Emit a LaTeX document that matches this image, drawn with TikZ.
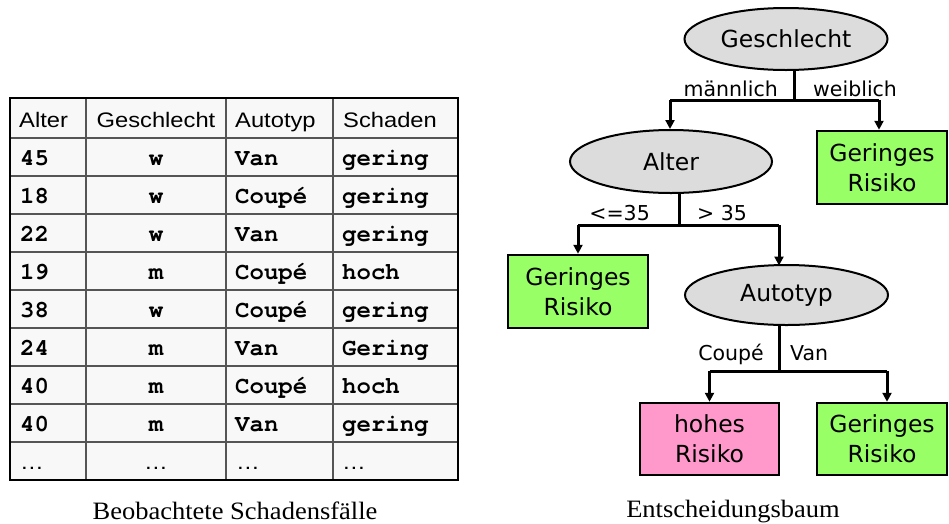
\documentclass[tikz,border=0pt]{standalone}
\usepackage{fontspec}
\usetikzlibrary{shapes.geometric,arrows.meta,calc}
\newfontfamily\hdfont[FakeStretch=1.13]{Liberation Sans}
\newfontfamily\tabmono{texgyrecursor}[Extension=.otf,UprightFont=*-regular,BoldFont=*-bold]
\newfontfamily\treefont{DejaVu Sans}
\newfontfamily\capfont[FakeStretch=1.06]{Liberation Serif}
\definecolor{nodegray}{HTML}{DCDCDC}
\definecolor{leafgreen}{HTML}{99FF66}
\definecolor{leafpink}{HTML}{FF99CC}
\definecolor{gridgray}{HTML}{555555}
\definecolor{tablebg}{HTML}{F8F8F8}

\begin{document}
\begin{tikzpicture}[x=1pt,y=-1pt,
  hd/.style={anchor=base west,inner sep=0,font=\hdfont\fontsize{21}{25}\selectfont},
  cell/.style={anchor=base west,inner sep=0,font=\tabmono\bfseries\fontsize{24}{28}\selectfont},
  ell/.style={ellipse,draw,line width=2pt,fill=nodegray,inner sep=0,
    font=\treefont\fontsize{23.5}{28}\selectfont},
  leaf/.style={rectangle,draw,line width=2.5pt,inner sep=0,align=center,
    font=\treefont\fontsize{23.5}{30}\selectfont},
  lbl/.style={inner sep=0,font=\treefont\fontsize{20.5}{24}\selectfont},
  conn/.style={line width=3pt},
  arr/.style={line width=3pt,-{Triangle[length=9pt,width=9pt]}},
  captext/.style={anchor=base,inner sep=0,font=\capfont\fontsize{25}{29}\selectfont}
]
\useasboundingbox (0,0) rectangle (949,523);

% ---------- table of observed claims ----------
\fill[tablebg] (10,98) rectangle (458,480);
\draw[gridgray,line width=1.2pt]
  (86,98) -- (86,480) (226,98) -- (226,480) (333,98) -- (333,480);
\foreach \yy in {138,176,214,252,290,328,366,404,442}
  \draw[gridgray,line width=1.2pt] (10,\yy) -- (458,\yy);
\draw[line width=2.5pt] (10,98) rectangle (458,480);

\node[hd] (hAlter) at (19,127) {Alter};
\node[hd,anchor=base] (hGeschlecht) at (156,127) {Geschlecht};
\node[hd] (hAutotyp) at (235,127) {Autotyp};
\node[hd] (hSchaden) at (343,127) {Schaden};

\foreach [count=\i] \a/\g/\t/\s in
  {45/w/Van/gering, 18/w/Coupé/gering, 22/w/Van/gering, 19/m/Coupé/hoch,
   38/w/Coupé/gering, 24/m/Van/Gering, 40/m/Coupé/hoch, 40/m/Van/gering} {
  \pgfmathsetmacro\yb{138+38*(\i-1)+27}
  \node[cell] (age\i) at (20,\yb) {\a};
  \node[cell,anchor=base] (sex\i) at (156,\yb) {\g};
  \node[cell] (car\i) at (235,\yb) {\t};
  \node[cell] (dmg\i) at (342,\yb) {\s};
}
\node[hd] (ageDots) at (20,469) {…};
\node[hd,anchor=base] (sexDots) at (156,469) {…};
\node[hd] (carDots) at (236,469) {…};
\node[hd] (dmgDots) at (342,469) {…};

\node[captext] (capTable) at (235,519) {Beobachtete Schadensfälle};

% ---------- decision tree ----------
\node[ell,minimum width=203pt,minimum height=62pt] (gesch) at (786,39) {Geschlecht};
\node[ell,minimum width=202pt,minimum height=63pt] (alter) at (671,161.5) {Alter};
\node[ell,minimum width=203pt,minimum height=60pt] (autotyp) at (786.5,295) {Autotyp};

\node[leaf,fill=leafgreen,minimum width=130pt,minimum height=73pt] (leafW) at (882,167.5) {Geringes\\Risiko};
\node[leaf,fill=leafgreen,minimum width=140pt,minimum height=73pt] (leafY) at (578,291.5) {Geringes\\Risiko};
\node[leaf,fill=leafpink,minimum width=139pt,minimum height=72pt] (leafC) at (709.5,439) {hohes\\Risiko};
\node[leaf,fill=leafgreen,minimum width=130pt,minimum height=72pt] (leafV) at (882,439) {Geringes\\Risiko};

% split on sex
\coordinate (j1) at (794,100);
\coordinate (j1l) at (670,100);
\coordinate (j1r) at (879,100);
\draw[conn] (j1 |- gesch.south) -- (j1);
\draw[conn] (j1l) -- (j1r);
\draw[arr] (j1l) -- (j1l |- alter.north);
\draw[arr] (j1r) -- (j1r |- leafW.north);
\node[lbl,anchor=base east] (lm) at (778,96.5) {männlich};
\node[lbl,anchor=base west] (lw) at (813,96.5) {weiblich};

% split on age
\coordinate (j2) at (679,225);
\coordinate (j2l) at (578,225);
\coordinate (j2r) at (779,225);
\draw[conn] (j2 |- alter.south) -- (j2);
\draw[conn] (j2l) -- (j2r);
\draw[arr] (j2l) -- (j2l |- leafY.north);
\draw[arr] (j2r) -- (779,265.5);
\node[lbl,anchor=base east] (lyoung) at (650,220) {<=35};
\node[lbl,anchor=base west] (lold) at (697,220) {> 35};

% split on car type
\coordinate (j3) at (779,371);
\coordinate (j3l) at (709.5,371);
\coordinate (j3r) at (887,371);
\draw[conn] (779,325) -- (j3);
\draw[conn] (j3l) -- (j3r);
\draw[arr] (j3l) -- (j3l |- leafC.north);
\draw[arr] (j3r) -- (j3r |- leafV.north);
\node[lbl,anchor=base east] (lc) at (764,360) {Coupé};
\node[lbl,anchor=base west] (lv) at (790,360) {Van};

\node[captext] (capTree) at (733,517.5) {Entscheidungsbaum};
\end{tikzpicture}
\end{document}
